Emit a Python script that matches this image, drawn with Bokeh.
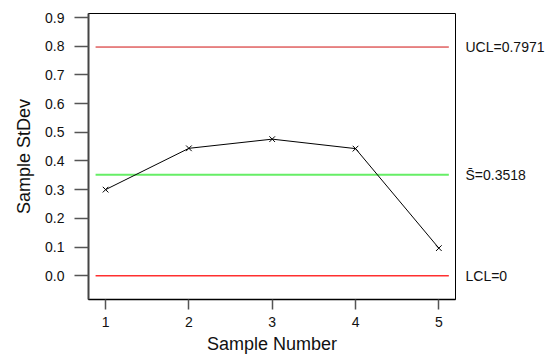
from bokeh.plotting import figure
from bokeh.models import (FixedTicker, PrintfTickFormatter, LinearAxis, Range1d,
                          CustomJSTickFormatter)
from bokeh.embed import file_html
from bokeh.resources import INLINE

# ---- data ----
sample_number = [1, 2, 3, 4, 5]
sample_stdev = [0.300, 0.444, 0.476, 0.443, 0.096]
ucl = 0.7971
center = 0.3518
lcl = 0.0
control_labels = ["UCL=0.7971", "S\u0304=0.3518", "LCL=0"]
y_ticks = [0.0, 0.1, 0.2, 0.3, 0.4, 0.5, 0.6, 0.7, 0.8, 0.9]
x_ticks = [1, 2, 3, 4, 5]

FONT = "Liberation Sans"

p = figure(width=549, height=356, output_backend="svg", toolbar_location=None,
           x_range=Range1d(0.795, 5.2), y_range=Range1d(-0.083, 0.914),
           min_border_left=88, min_border_right=94, min_border_top=13,
           min_border_bottom=56)
p.grid.visible = False
p.outline_line_color = "black"
p.outline_line_width = 1
p.background_fill_color = "white"
p.border_fill_color = "white"

# control lines
x0 = sample_number[0] - 0.12
x1 = sample_number[-1] + 0.12
p.segment(x0=[x0], x1=[x1], y0=[ucl], y1=[ucl], line_color="#d01010", line_width=1)
p.segment(x0=[x0], x1=[x1], y0=[center], y1=[center], line_color="#66ee66", line_width=2)
p.segment(x0=[x0], x1=[x1], y0=[lcl], y1=[lcl], line_color="#ff3030", line_width=1.5)

# data
p.line(sample_number, sample_stdev, line_color="black", line_width=1)
p.scatter(sample_number, sample_stdev, marker="x", size=8, line_color="black", line_width=1)

# y axis
ya = p.yaxis[0]
ya.ticker = FixedTicker(ticks=y_ticks)
ya.formatter = PrintfTickFormatter(format="%.1f")
ya.axis_label = "Sample StDev"
ya.axis_label_text_font = FONT
ya.axis_label_text_font_style = "normal"
ya.axis_label_text_font_size = "18px"
ya.axis_label_text_color = "#111111"
ya.axis_label_standoff = 8
ya.major_label_text_font = FONT
ya.major_label_text_font_size = "14px"
ya.major_label_text_color = "#111111"
ya.major_label_standoff = 10
ya.major_tick_out = 14
ya.major_tick_in = 0
ya.minor_tick_line_color = None
ya.major_tick_line_color = "#555555"
ya.major_tick_line_width = 1.5
ya.axis_line_color = "#444444"
ya.axis_line_width = 2

# x axis
xa = p.xaxis[0]
xa.ticker = FixedTicker(ticks=x_ticks)
xa.axis_label = "Sample Number"
xa.axis_label_text_font = FONT
xa.axis_label_text_font_style = "normal"
xa.axis_label_text_font_size = "18px"
xa.axis_label_text_color = "#111111"
xa.axis_label_standoff = 4
xa.major_label_text_font = FONT
xa.major_label_text_font_size = "14px"
xa.major_label_text_color = "#111111"
xa.major_label_standoff = 7
xa.major_tick_out = 10
xa.major_tick_in = 0
xa.minor_tick_line_color = None
xa.major_tick_line_color = "#555555"
xa.major_tick_line_width = 1.5
xa.axis_line_color = "black"
xa.axis_line_width = 1.5

# right axis with control limit labels
ctrl_vals = [ucl, center, lcl]
ra = LinearAxis(ticker=FixedTicker(ticks=ctrl_vals),
                formatter=CustomJSTickFormatter(
                    args=dict(vals=ctrl_vals, labels=control_labels),
                    code="""
                    for (let i = 0; i < vals.length; i++) {
                        if (Math.abs(tick - vals[i]) < 1e-9) return labels[i];
                    }
                    return "";
                    """))
ra.axis_line_color = None
ra.major_tick_line_color = None
ra.minor_tick_line_color = None
ra.major_tick_out = 0
ra.major_tick_in = 0
ra.major_label_standoff = 10
ra.major_label_text_font = FONT
ra.major_label_text_font_size = "14px"
ra.major_label_text_color = "#111111"
p.add_layout(ra, "right")

open("out.html", "w").write(file_html(p, INLINE))
